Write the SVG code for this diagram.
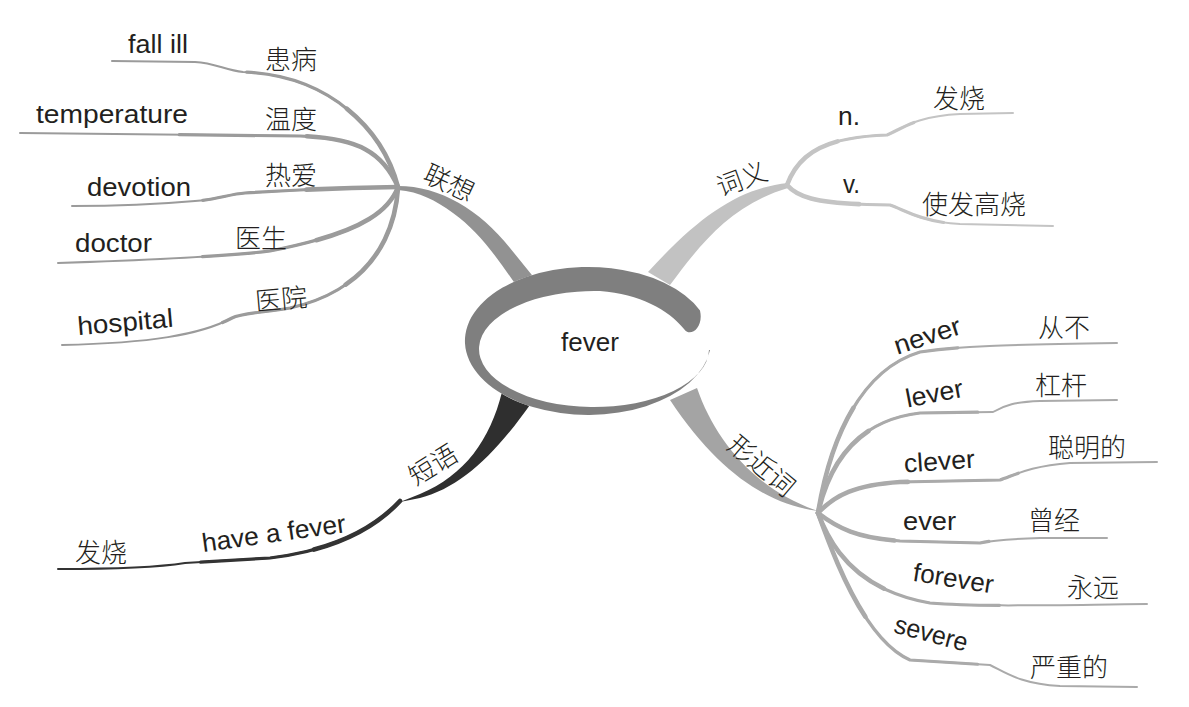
<svg xmlns="http://www.w3.org/2000/svg" xmlns:xlink="http://www.w3.org/1999/xlink" width="1189" height="707" viewBox="0 0 1189 707">
<style>
.en{font-family:"Liberation Sans",Arial,sans-serif;font-size:26px;fill:#231f20}
.zh{font-family:"Noto Sans CJK SC",sans-serif;font-size:26px;fill:#231f20;font-weight:300;dominant-baseline:central}
.ln{fill:none;stroke-linecap:round;stroke-linejoin:round}
.w1{stroke-width:2}
.w2{stroke-width:3.2;stroke-dasharray:60 200}
.w3{stroke-width:4.6;stroke-dasharray:28 200}
</style>
<defs>
<path id="p1" pathLength="100" d="M398,187 C383,130 330,75 243,72 C225,70 215,63 195,62 L112,61"/>
<path id="p2" pathLength="100" d="M398,187 C382,150 355,138 300,136 L20,133"/>
<path id="p3" pathLength="100" d="M398,187 Q320,188 245,193 C230,194 215,200 195,201 C150,205 100,206 72,206"/>
<path id="p4" pathLength="100" d="M398,187 C385,222 335,238 270,251 C230,256 150,260 58,263"/>
<path id="p5" pathLength="100" d="M398,188 C395,235 370,290 290,308 C260,313 242,313 232,318 C200,335 150,343 62,345"/>
<path id="pn" pathLength="100" d="M787,185 C800,150 830,137 887,135 C900,130 915,116 960,114 L1013,113"/>
<path id="pv" pathLength="100" d="M787,185 C800,200 825,204 890,205 C905,210 920,222 960,224 L1053,226"/>
<path id="q1" pathLength="100" d="M818,513 C830,440 860,370 920,352 C960,346 1000,345 1117,343"/>
<path id="q2" pathLength="100" d="M818,513 C830,460 860,420 920,413 L993,412 C1005,405 1015,402 1040,401 L1117,400"/>
<path id="q3" pathLength="100" d="M818,513 C835,495 855,485 900,482 L1000,480 C1015,475 1030,466 1070,463 L1157,462"/>
<path id="q4" pathLength="100" d="M818,513 C840,530 860,538 900,541 L980,543 C995,540 1010,539 1040,538 L1107,538"/>
<path id="q5" pathLength="100" d="M818,513 C830,545 855,590 930,603 C980,607 1050,605 1147,604"/>
<path id="q6" pathLength="100" d="M818,513 C835,560 865,640 910,660 L990,665 C1005,672 1020,684 1060,686 L1137,687"/>
<path id="ps" pathLength="100" d="M400,501 C375,528 335,550 270,558 L185,563 C160,567 120,569 58,569"/>
</defs>

<g id="connectors">
  <g id="branch-lianxiang" fill="#929292" stroke="#9b9b9b">
    <path stroke="none" d="M398,186 C440,186 480,210 510,248 L540,285 L518,288 C500,262 480,232 453,213 C435,200 420,192 398,190 Z"/>
    <g class="ln">
      <use xlink:href="#p1" class="w1"/><use xlink:href="#p1" class="w2"/><use xlink:href="#p1" class="w3"/>
      <use xlink:href="#p2" class="w1"/><use xlink:href="#p2" class="w2"/><use xlink:href="#p2" class="w3"/>
      <use xlink:href="#p3" class="w1"/><use xlink:href="#p3" class="w2"/><use xlink:href="#p3" class="w3"/>
      <use xlink:href="#p4" class="w1"/><use xlink:href="#p4" class="w2"/><use xlink:href="#p4" class="w3"/>
      <use xlink:href="#p5" class="w1"/><use xlink:href="#p5" class="w2"/><use xlink:href="#p5" class="w3"/>
    </g>
  </g>
  <g id="branch-ciyi" fill="#c2c2c2" stroke="#c4c4c4">
    <path stroke="none" d="M788,183 C740,188 700,215 648,272 L670,285 C700,245 730,205 788,188 Z"/>
    <g class="ln">
      <use xlink:href="#pn" class="w1"/><use xlink:href="#pn" class="w2"/><use xlink:href="#pn" class="w3"/>
      <use xlink:href="#pv" class="w1"/><use xlink:href="#pv" class="w2"/><use xlink:href="#pv" class="w3"/>
    </g>
  </g>
  <g id="branch-xingjinci" fill="#a4a4a4" stroke="#aaaaaa">
    <path stroke="none" d="M697,388 C715,440 755,490 818,511 C770,505 720,475 670,400 Z"/>
    <g class="ln">
      <use xlink:href="#q1" class="w1"/><use xlink:href="#q1" class="w2"/><use xlink:href="#q1" class="w3"/>
      <use xlink:href="#q2" class="w1"/><use xlink:href="#q2" class="w2"/><use xlink:href="#q2" class="w3"/>
      <use xlink:href="#q3" class="w1"/><use xlink:href="#q3" class="w2"/><use xlink:href="#q3" class="w3"/>
      <use xlink:href="#q4" class="w1"/><use xlink:href="#q4" class="w2"/><use xlink:href="#q4" class="w3"/>
      <use xlink:href="#q5" class="w1"/><use xlink:href="#q5" class="w2"/><use xlink:href="#q5" class="w3"/>
      <use xlink:href="#q6" class="w1"/><use xlink:href="#q6" class="w2"/><use xlink:href="#q6" class="w3"/>
    </g>
  </g>
  <g id="branch-duanyu" fill="#2f2f2f" stroke="#333333">
    <path stroke="none" d="M502,392 C490,440 465,475 420,494 L400,502 L420,498 C460,488 495,455 532,402 Z"/>
    <g class="ln">
      <use xlink:href="#ps" class="w1"/><use xlink:href="#ps" class="w2"/><use xlink:href="#ps" class="w3"/>
    </g>
  </g>
</g>

<g id="node-fever">
  <ellipse cx="588" cy="341" rx="123" ry="74" fill="#ffffff"/>
  <path fill="#7f7f7f" d="M700,310.4 A123,74 0 1 0 710,350 L709,350 A115,58 0 1 1 600,291.1 C640,294 668,310 684,329 C690,338 704,328 700,310.4 Z"/>
  <text class="en" x="590" y="351" text-anchor="middle" font-size="25">fever</text>
</g>

<g id="node-lianxiang"><text class="zh" transform="translate(450,181) rotate(25)" text-anchor="middle">联想</text></g>
<g id="node-fallill"><text class="en" x="128" y="53" textLength="60" lengthAdjust="spacingAndGlyphs">fall ill</text></g>
<g id="node-huanbing"><text class="zh" x="265" y="57.5">患病</text></g>
<g id="node-temperature"><text class="en" x="36" y="123" textLength="152" lengthAdjust="spacingAndGlyphs">temperature</text></g>
<g id="node-wendu"><text class="zh" x="265" y="117.5">温度</text></g>
<g id="node-devotion"><text class="en" x="87" y="196" textLength="104" lengthAdjust="spacingAndGlyphs">devotion</text></g>
<g id="node-reai"><text class="zh" x="265" y="173">热爱</text></g>
<g id="node-doctor"><text class="en" x="75" y="252" textLength="77" lengthAdjust="spacingAndGlyphs">doctor</text></g>
<g id="node-yisheng"><text class="zh" x="235" y="236">医生</text></g>
<g id="node-hospital"><text class="en" transform="translate(126,331) rotate(-5)" text-anchor="middle" textLength="96" lengthAdjust="spacingAndGlyphs">hospital</text></g>
<g id="node-yiyuan"><text class="zh" transform="translate(281,297) rotate(-5)" text-anchor="middle">医院</text></g>

<g id="node-ciyi"><text class="zh" transform="translate(741,177) rotate(-20)" text-anchor="middle">词义</text></g>
<g id="node-n"><text class="en" x="838" y="125" textLength="22" lengthAdjust="spacingAndGlyphs">n.</text></g>
<g id="node-fashao1"><text class="zh" x="933" y="96.5">发烧</text></g>
<g id="node-v"><text class="en" x="843" y="193" textLength="17" lengthAdjust="spacingAndGlyphs">v.</text></g>
<g id="node-shifagaoshao"><text class="zh" x="922" y="202">使发高烧</text></g>

<g id="node-xingjinci"><text class="zh" transform="translate(763,464) rotate(40)" text-anchor="middle">形近词</text></g>
<g id="node-never"><text class="en" transform="translate(930,344) rotate(-18)" text-anchor="middle" textLength="69" lengthAdjust="spacingAndGlyphs">never</text></g>
<g id="node-congbu"><text class="zh" x="1038" y="325">从不</text></g>
<g id="node-lever"><text class="en" transform="translate(936,402) rotate(-11)" text-anchor="middle" textLength="58" lengthAdjust="spacingAndGlyphs">lever</text></g>
<g id="node-ganggan"><text class="zh" x="1035" y="383">杠杆</text></g>
<g id="node-clever"><text class="en" transform="translate(940,470) rotate(-4)" text-anchor="middle" textLength="71" lengthAdjust="spacingAndGlyphs">clever</text></g>
<g id="node-congmingde"><text class="zh" x="1048" y="445">聪明的</text></g>
<g id="node-ever"><text class="en" x="903" y="530" textLength="53" lengthAdjust="spacingAndGlyphs">ever</text></g>
<g id="node-cengjing"><text class="zh" x="1028" y="518">曾经</text></g>
<g id="node-forever"><text class="en" transform="translate(952,587) rotate(9)" text-anchor="middle" textLength="81" lengthAdjust="spacingAndGlyphs">forever</text></g>
<g id="node-yongyuan"><text class="zh" x="1067" y="585">永远</text></g>
<g id="node-severe"><text class="en" transform="translate(929,642) rotate(15)" text-anchor="middle" textLength="75" lengthAdjust="spacingAndGlyphs">severe</text></g>
<g id="node-yanzhongde"><text class="zh" x="1030" y="665">严重的</text></g>

<g id="node-duanyu"><text class="zh" transform="translate(432,463) rotate(-32)" text-anchor="middle">短语</text></g>
<g id="node-haveafever"><text class="en" transform="translate(275,542) rotate(-8)" text-anchor="middle" textLength="145" lengthAdjust="spacingAndGlyphs">have a fever</text></g>
<g id="node-fashao2"><text class="zh" x="75" y="550">发烧</text></g>
</svg>
